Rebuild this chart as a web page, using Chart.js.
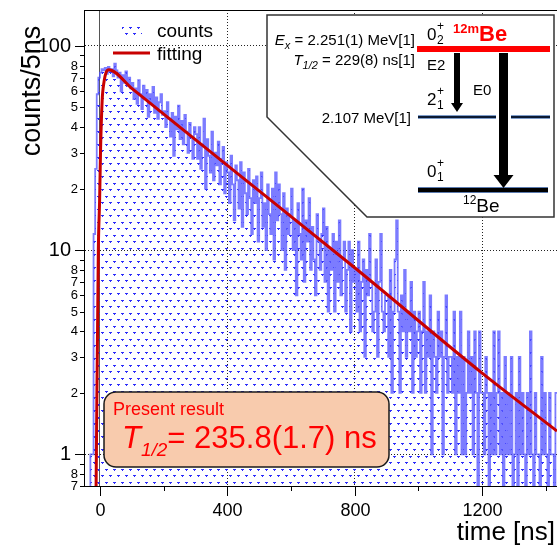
<!DOCTYPE html>
<html>
<head>
<meta charset="utf-8">
<script src="https://cdn.jsdelivr.net/npm/chart.js@4.4.1/dist/chart.umd.min.js"></script>
<style>
    html, body { margin: 0; padding: 0; background: #fff; }
    #wrap { position: relative; width: 557px; height: 546px; }
</style>
</head>
<body>
<div id="wrap"><canvas id="decayChart"></canvas></div>
<script>
/* ===============================
   DATA
================================ */
const binStart = -50;
const binWidth = 5;
const timeMin = -50;
const timeMax = 1435;

// counts per 5 ns bin, starting at binStart
const counts = [
    0, 0, 0, 0, 1, 1, 12, 25, 58, 70,
    74, 77, 76, 78, 73, 79, 75, 77, 71, 82, 76, 70, 74, 60, 72, 66, 75, 64, 70, 62,
    66, 55, 62, 52, 68, 58, 49, 64, 55, 61, 45, 58, 52, 63, 47, 56, 44, 53, 58, 46,
    48, 40, 53, 44, 36, 47, 29, 45, 39, 51, 35, 43, 33, 46, 38, 30, 42, 36, 28, 40,
    37, 28, 40, 25, 33, 44, 20, 35, 29, 24, 38, 22, 30, 26, 34, 21, 28, 32, 19, 27,
    24, 17, 29, 21, 14, 26, 22, 16, 27, 13, 24, 19, 15, 25, 18, 12, 22, 17, 23, 11,
    18, 24, 13, 17, 10, 21, 15, 12, 20, 9, 24, 14, 21, 15, 10, 19, 8, 16, 12, 15,
    20, 10, 14, 6, 17, 12, 9, 20, 7, 14, 11, 18, 8, 13, 9, 6, 15, 11, 8, 12,
    16, 7, 13, 5, 10, 8, 12, 5, 11, 7, 14, 6, 9, 11, 5, 8, 11, 4, 10, 7,
    8, 5, 11, 4, 7, 9, 3, 8, 6, 12, 7, 4, 5, 9, 3, 7, 12, 5, 4, 6,
    6, 3, 8, 2, 5, 9, 14, 5, 2, 6, 4, 8, 3, 5, 4, 7, 2, 5, 3, 4,
    5, 2, 4, 7, 2, 4, 3, 6, 1, 4, 3, 2, 5, 3, 4, 1, 3, 6, 2, 3,
    3, 2, 5, 1, 3, 2, 5, 1, 3, 1, 2, 4, 2, 3, 1, 4, 2, 0, 4, 2,
    2, 1, 3, 2, 0, 2, 1, 4, 1, 2, 4, 1, 2, 0, 3, 1, 2, 1, 3, 0,
    1, 2, 0, 3, 1, 2, 1, 0, 2, 1, 4, 1, 0, 2, 1, 1, 0, 3, 1, 2,
    1, 0, 2, 1, 1, 0, 2
];

// fit curve
const fitTimes  = [-12, -5, -1, 2, 7, 13, 19, 28, 100, 400, 800, 1200, 1435];
const fitValues = [0.7, 10, 17.5, 31, 54, 67, 74, 76.5, 62, 26, 8.2, 2.5, 1.3];

const xTickValues = [0, 200, 400, 600, 800, 1000, 1200, 1400];
const xTickLabels = ["0", "", "400", "", "800", "", "1200", ""];

const yTickValues = [0.7, 0.8, 0.9, 1, 2, 3, 4, 5, 6, 7, 8, 9, 10, 20, 30, 40, 50, 60, 70, 80, 90, 100];
const yTickLabels = ["7", "8", "", "1", "2", "3", "4", "5", "6", "7", "8", "", "10",
                     "2", "3", "4", "5", "6", "7", "8", "", "100"];
const yMajor = [1, 10, 100];
const xMajor = [0, 400, 800, 1200];

const legendLabels = ["counts", "fitting"];

/* ===============================
   HELPERS
================================ */
const FONT = '"Liberation Sans", Arial, Helvetica, sans-serif';
const BLUE = "rgba(80, 80, 255, 0.75)";
const FIT_RED = "#c80000";
const RED = "#ff0000";

function makeDotPattern(ctx) {
    const tile = document.createElement("canvas");
    tile.width = 8;
    tile.height = 13;
    const g = tile.getContext("2d");
    g.fillStyle = "rgb(45, 45, 250)";
    g.fillRect(1, 1, 3, 1);
    g.fillRect(2, 2, 1, 1);
    g.fillRect(5, 7, 3, 1);
    g.fillRect(6, 8, 1, 1);
    return ctx.createPattern(tile, "repeat");
}

// draws a list of text runs one after the other: [text, font, dy, color]
function drawRuns(ctx, x, y, runs, align) {
    let total = 0;
    runs.forEach(r => { ctx.font = r[1]; total += ctx.measureText(r[0]).width; });
    let cx = align === "right" ? x - total : x;
    ctx.textAlign = "left";
    ctx.textBaseline = "alphabetic";
    runs.forEach(r => {
        ctx.font = r[1];
        ctx.fillStyle = r[3] || "#000";
        ctx.fillText(r[0], cx, y + (r[2] || 0));
        cx += ctx.measureText(r[0]).width;
    });
}

function downArrow(ctx, cx, y0, y1, shaftW, headW, headL) {
    ctx.beginPath();
    ctx.moveTo(cx - shaftW / 2, y0);
    ctx.lineTo(cx + shaftW / 2, y0);
    ctx.lineTo(cx + shaftW / 2, y1 - headL);
    ctx.lineTo(cx + headW / 2, y1 - headL);
    ctx.lineTo(cx, y1);
    ctx.lineTo(cx - headW / 2, y1 - headL);
    ctx.lineTo(cx - shaftW / 2, y1 - headL);
    ctx.closePath();
    ctx.fillStyle = "#000";
    ctx.fill();
}

function level(ctx, x0, x1, y, w, edge, core) {
    ctx.fillStyle = edge;
    ctx.fillRect(x0, y - w / 2 - 1, x1 - x0, w + 2);
    ctx.fillStyle = core;
    ctx.fillRect(x0, y - w / 2, x1 - x0, w);
}

/* ===============================
   OVERLAYS (legend, inset, result box)
================================ */
function drawLegend(ctx, pattern) {
    ctx.save();
    ctx.fillStyle = pattern;
    ctx.fillRect(122, 23, 20, 12);
    ctx.strokeStyle = FIT_RED;
    ctx.lineWidth = 3;
    ctx.beginPath();
    ctx.moveTo(113, 53);
    ctx.lineTo(150, 53);
    ctx.stroke();
    ctx.fillStyle = "#000";
    ctx.font = "19px " + FONT;
    ctx.textAlign = "left";
    ctx.textBaseline = "alphabetic";
    ctx.fillText(legendLabels[0], 157, 37);
    ctx.fillText(legendLabels[1], 157, 60);
    ctx.restore();
}

function drawInset(ctx) {
    ctx.save();
    ctx.beginPath();
    ctx.moveTo(267, 15);
    ctx.lineTo(554, 15);
    ctx.lineTo(554, 217);
    ctx.lineTo(367, 217);
    ctx.lineTo(267, 117);
    ctx.closePath();
    ctx.fillStyle = "#fff";
    ctx.fill();
    ctx.strokeStyle = "#333";
    ctx.lineWidth = 1.5;
    ctx.stroke();

    // levels
    ctx.fillStyle = RED;
    ctx.fillRect(417, 46, 133, 6);
    level(ctx, 418, 550, 117, 2, "#7d9cc9", "#0b1a33");
    level(ctx, 418, 548, 190, 4, "#5b7bb0", "#000");

    // transitions
    downArrow(ctx, 457, 53, 112, 6, 12, 9);
    ctx.fillStyle = "#fff";
    ctx.fillRect(496, 114, 15, 6);
    downArrow(ctx, 503.5, 53, 188, 9, 20, 13);

    // spin labels
    const big = "17px " + FONT;
    const small = "12px " + FONT;
    drawRuns(ctx, 427, 40, [["0", big]]);
    drawRuns(ctx, 437, 30, [["+", small]]);
    drawRuns(ctx, 437, 44, [["2", small]]);
    drawRuns(ctx, 427, 105, [["2", big]]);
    drawRuns(ctx, 437, 95, [["+", small]]);
    drawRuns(ctx, 437, 109, [["1", small]]);
    drawRuns(ctx, 427, 177, [["0", big]]);
    drawRuns(ctx, 437, 167, [["+", small]]);
    drawRuns(ctx, 437, 181, [["1", small]]);

    drawRuns(ctx, 453, 41, [["12m", "bold 13px " + FONT, -8, RED], ["Be", "bold 22px " + FONT, 0, RED]]);
    drawRuns(ctx, 463, 212, [["12", "12px " + FONT, -8], ["Be", "19px " + FONT, 0]]);

    const txt = "15px " + FONT;
    drawRuns(ctx, 427, 70, [["E2", txt]]);
    drawRuns(ctx, 473, 95, [["E0", txt]]);
    drawRuns(ctx, 415, 45, [["E", "italic 15px " + FONT], ["x", "italic 11px " + FONT, 4],
                            [" = 2.251(1) MeV[1]", txt]], "right");
    drawRuns(ctx, 415, 65, [["T", "italic 15px " + FONT], ["1/2", "italic 11px " + FONT, 4],
                            [" = 229(8) ns[1]", txt]], "right");
    drawRuns(ctx, 411, 123, [["2.107 MeV[1]", txt]], "right");
    ctx.restore();
}

function drawResultBox(ctx) {
    ctx.save();
    ctx.beginPath();
    ctx.roundRect(104, 392, 285, 75, 12);
    ctx.fillStyle = "rgb(248, 203, 173)";
    ctx.fill();
    ctx.strokeStyle = "#1a1a1a";
    ctx.lineWidth = 1.5;
    ctx.stroke();
    drawRuns(ctx, 113, 415, [["Present result", "18px " + FONT, 0, RED]]);
    drawRuns(ctx, 122, 448, [["T", "italic 31px " + FONT, 0, RED],
                             ["1/2", "italic 19px " + FONT, 8, RED],
                             ["= 235.8(1.7) ns", "31px " + FONT, 0, RED]]);
    ctx.restore();
}

/* ===============================
   AXES DECORATION (ticks, labels, titles)
================================ */
function drawAxes(chart) {
    const ctx = chart.ctx;
    const xs = chart.scales.x;
    const ys = chart.scales.y;
    const area = chart.chartArea;
    ctx.save();
    ctx.strokeStyle = "#000";
    ctx.lineWidth = 1;

    // top frame
    ctx.beginPath();
    ctx.moveTo(area.left, area.top + 0.5);
    ctx.lineTo(area.right, area.top + 0.5);
    ctx.stroke();

    // y ticks and labels
    ctx.textAlign = "right";
    ctx.textBaseline = "middle";
    ctx.fillStyle = "#000";
    yTickValues.forEach((v, i) => {
        const py = Math.round(ys.getPixelForValue(v)) + 0.5;
        const major = yMajor.includes(v);
        const len = major ? 9 : 4;
        ctx.beginPath();
        ctx.moveTo(area.left - len, py);
        ctx.lineTo(area.left, py);
        ctx.stroke();
        if (yTickLabels[i]) {
            ctx.font = (major ? "20px " : "13px ") + FONT;
            ctx.fillText(yTickLabels[i], major ? area.left - 13 : area.left - 6, py);
        }
    });

    // x ticks and labels
    ctx.textAlign = "center";
    ctx.textBaseline = "alphabetic";
    ctx.font = "18px " + FONT;
    xTickValues.forEach((v, i) => {
        const px = Math.round(xs.getPixelForValue(v)) + 0.5;
        const major = xMajor.includes(v);
        const len = major ? 10 : 5;
        ctx.beginPath();
        ctx.moveTo(px, area.bottom);
        ctx.lineTo(px, area.bottom + len);
        ctx.stroke();
        if (xTickLabels[i]) ctx.fillText(xTickLabels[i], px, area.bottom + 30);
    });

    // titles
    ctx.font = "26px " + FONT;
    ctx.textAlign = "right";
    ctx.fillText("time [ns]", 555, 540);
    ctx.translate(40, 91);
    ctx.rotate(-Math.PI / 2);
    ctx.textAlign = "center";
    ctx.font = "27px " + FONT;
    ctx.fillText("counts/5ns", 0, 0);
    ctx.restore();
}

/* ===============================
   CHART
================================ */
document.addEventListener("DOMContentLoaded", () => {
    const canvas = document.getElementById("decayChart");
    const ctx = canvas.getContext("2d");
    const dots = makeDotPattern(ctx);

    const histPoints = counts.map((c, i) => ({ x: binStart + i * binWidth, y: c > 0 ? c : 0.5 }));
    histPoints.push({ x: binStart + counts.length * binWidth, y: histPoints[histPoints.length - 1].y });
    const fitPoints = fitTimes.map((t, i) => ({ x: t, y: fitValues[i] }));

    const overlays = {
        id: "overlays",
        afterDatasetsDraw(chart) {
            drawLegend(chart.ctx, dots);
            drawInset(chart.ctx);
            drawResultBox(chart.ctx);
        },
        afterDraw(chart) {
            drawAxes(chart);
        }
    };

    new Chart(ctx, {
        type: "line",
        data: {
            datasets: [{
                label: legendLabels[1],
                data: fitPoints,
                borderColor: FIT_RED,
                borderWidth: 3,
                pointRadius: 0,
                cubicInterpolationMode: "monotone",
                fill: false,
                order: 0
            }, {
                label: legendLabels[0],
                data: histPoints,
                stepped: "before",
                borderColor: BLUE,
                borderWidth: 1.8,
                pointRadius: 0,
                backgroundColor: dots,
                fill: "start",
                order: 1
            }]
        },
        options: {
            responsive: true,
            maintainAspectRatio: false,
            animation: false,
            events: [],
            layout: { padding: { top: 10, right: 0, bottom: 0, left: 0 } },
            plugins: {
                legend: { display: false },
                tooltip: { enabled: false }
            },
            scales: {
                x: {
                    type: "linear",
                    min: timeMin,
                    max: timeMax,
                    afterBuildTicks: s => { s.ticks = xTickValues.map(v => ({ value: v })); },
                    afterFit: s => { s.height = 60; },
                    ticks: { display: false },
                    grid: {
                        drawTicks: false,
                        color: c => (c.tick && xMajor.includes(c.tick.value)) ? (c.tick.value === 0 ? "#555" : "#222") : "rgba(0,0,0,0)",
                        lineWidth: 1
                    },
                    border: {
                        color: "#000",
                        width: 1,
                        dash: c => (c.tick && c.tick.value === 0) ? [] : [1, 2]
                    }
                },
                y: {
                    type: "logarithmic",
                    min: 0.7,
                    max: 150,
                    afterBuildTicks: s => { s.ticks = yTickValues.map(v => ({ value: v })); },
                    afterFit: s => { s.width = 84; },
                    ticks: { display: false },
                    grid: {
                        drawTicks: false,
                        color: c => (c.tick && yMajor.includes(c.tick.value)) ? "#222" : "rgba(0,0,0,0)",
                        lineWidth: 1
                    },
                    border: { color: "#000", width: 1, dash: [1, 2] }
                }
            }
        },
        plugins: [overlays]
    });
});
</script>
</body>
</html>
